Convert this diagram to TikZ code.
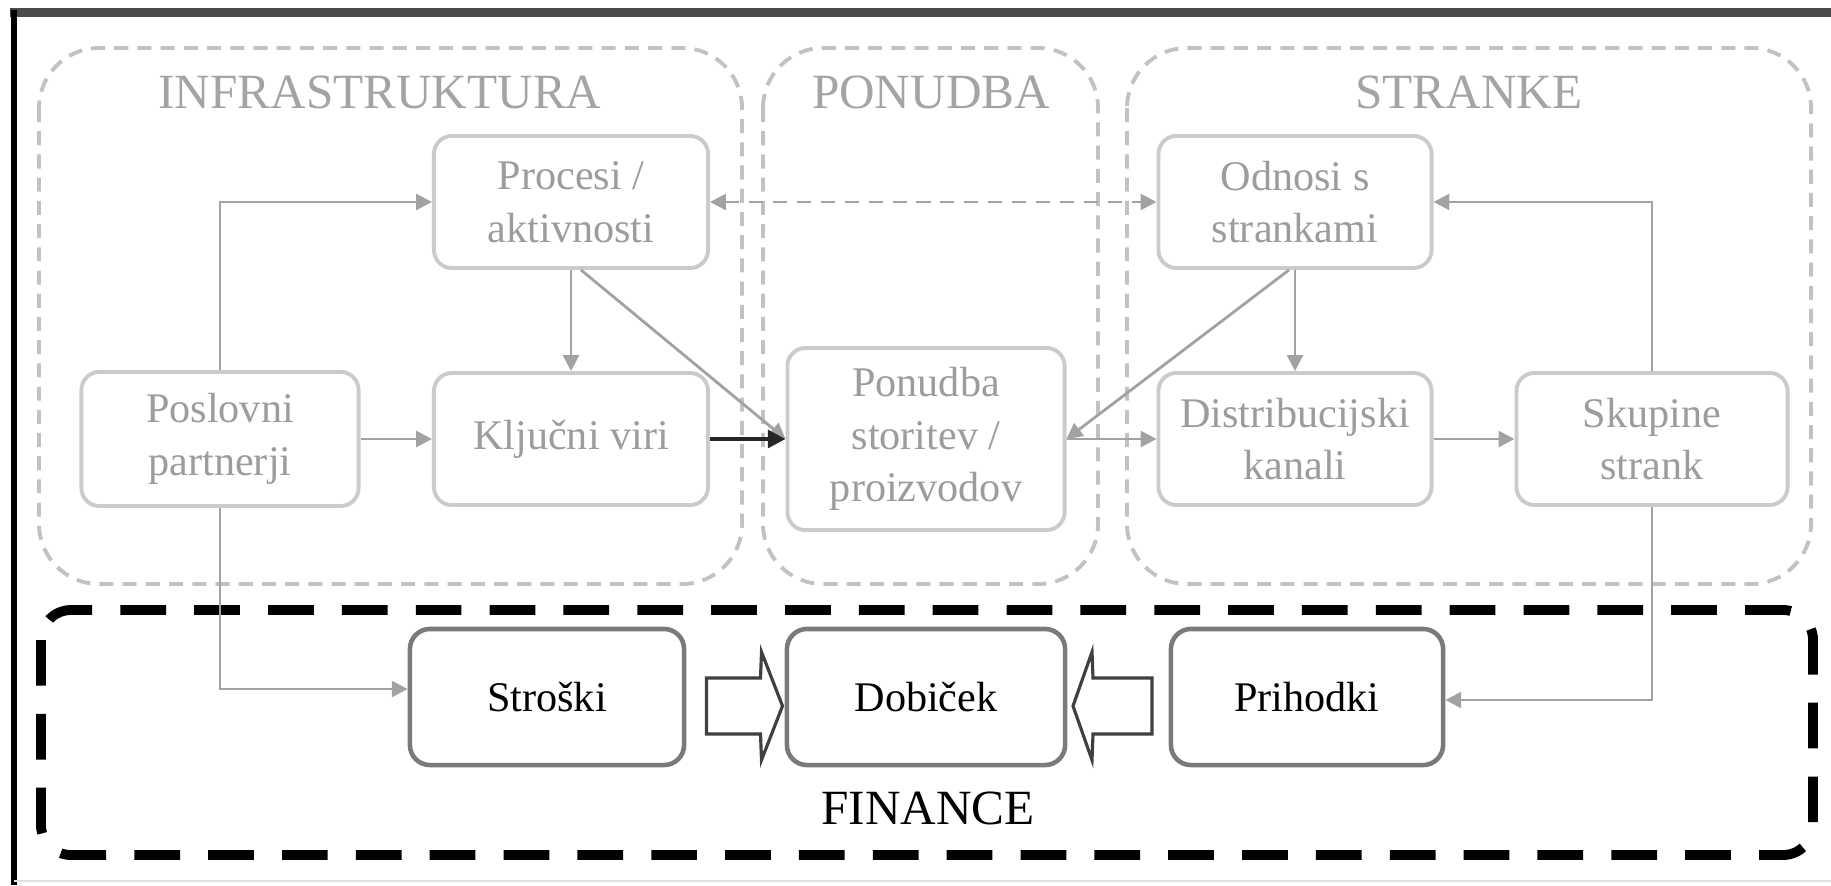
\documentclass[tikz,border=0pt]{standalone}
\usepackage{fontspec}
\setmainfont{Liberation Serif}
\usetikzlibrary{arrows.meta,calc}

\definecolor{zonegray}{HTML}{C2C2C2}
\definecolor{titlegray}{HTML}{A4A4A4}
\definecolor{boxgray}{HTML}{CBCBCB}
\definecolor{textgray}{HTML}{9C9C9C}
\definecolor{linegray}{HTML}{A2A2A2}
\definecolor{findraw}{HTML}{7A7A7A}
\definecolor{framedark}{HTML}{4A4A4A}

\begin{document}
\begin{tikzpicture}[x=0.01cm, y=-0.01cm,
  zone/.style={draw=zonegray, line width=1.1pt, dash pattern=on 4pt off 2.6pt, rounded corners=0.6cm},
  zonetitle/.style={text=titlegray, font=\fontsize{14}{16}\selectfont, inner sep=0pt},
  block/.style={draw=boxgray, line width=1.1pt, rounded corners=0.18cm, fill=white,
    text=textgray, align=center, font=\fontsize{12}{15}\selectfont, inner sep=0pt},
  finbox/.style={draw=findraw, line width=1.3pt, rounded corners=0.2cm, fill=white,
    align=center, font=\fontsize{12}{15}\selectfont, inner sep=0pt,
    minimum width=2.74cm, minimum height=1.36cm},
  flow/.style={draw=linegray, line width=0.8pt, -{Triangle[length=4.5pt,width=4.5pt]}},
  keyflow/.style={draw=black!85, line width=1.1pt, -{Triangle[length=5pt,width=5pt]}},
  linkflow/.style={draw=linegray, line width=0.8pt, dash pattern=on 4pt off 2.8pt,
    {Triangle[length=4.5pt,width=4.5pt]}-{Triangle[length=4.5pt,width=4.5pt]}},
  blockarrow/.style={draw=black!75, line width=0.9pt, fill=white, line join=miter},
  findash/.style={draw=black, line width=2.8pt, dash pattern=on 13pt off 8pt, rounded corners=0.3cm}
]
\useasboundingbox (0,0) rectangle (1831,885);
\fill[white] (0,0) rectangle (1831,885);

% outer frame
\draw[line width=2.4pt, framedark] (10,12.5) -- (1831,12.5);
\draw[line width=1.5pt, black] (14,10) -- (14,885);
\draw[line width=0.6pt, black!12] (14,881) -- (1831,881);

% dashed zones
\draw[zone] (39,48) rectangle (742,584);
\draw[zone] (763,48) rectangle (1098,584);
\draw[zone] (1127,48) rectangle (1811,584);
\node[zonetitle] (tinfra) at (380,92) {INFRASTRUKTURA};
\node[zonetitle] (tponud) at (931,92) {PONUDBA};
\node[zonetitle] (tstran) at (1469,92) {STRANKE};

% finance zone
\draw[findash] (41,610) rectangle (1813,855);
\node[font=\fontsize{14}{16}\selectfont, inner sep=0pt] (tfin) at (928,808) {FINANCE};

% building blocks
\node[block, minimum width=2.74cm, minimum height=1.32cm] (proc) at (571,202) {Procesi /\\aktivnosti};
\node[block, minimum width=2.77cm, minimum height=1.34cm] (posl) at (220,439) {Poslovni\\partnerji};
\node[block, minimum width=2.74cm, minimum height=1.32cm] (kljuc) at (571,439) {Ključni viri};
\node[block, minimum width=2.77cm, minimum height=1.82cm] (ponud) at (926,439) {Ponudba\\storitev /\\proizvodov};
\node[block, minimum width=2.73cm, minimum height=1.32cm] (odn) at (1295,202) {Odnosi s\\strankami};
\node[block, minimum width=2.73cm, minimum height=1.32cm] (dist) at (1295,439) {Distribucijski\\kanali};
\node[block, minimum width=2.71cm, minimum height=1.32cm] (skup) at (1652,439) {Skupine\\strank};

\node[finbox] (stro) at (547,697) {Stroški};
\node[finbox, minimum width=2.78cm] (dob) at (926,697) {Dobiček};
\node[finbox, minimum width=2.72cm] (prih) at (1307,697) {Prihodki};

% connectors
\draw[flow] (posl.north) |- (proc.west);
\draw[flow] (posl.east) -- (kljuc.west);
\draw[flow] (proc.south) -- (kljuc.north);
\draw[flow] ($(proc.south)+(10,0)$) -- (ponud.west);
\draw[keyflow] (kljuc.east) -- (ponud.west);
\draw[linkflow] (proc.east) -- (odn.west);
\draw[flow] (odn.south) -- (dist.north);
\draw[flow] ($(odn.south)+(-6,0)$) -- (ponud.east);
\draw[flow] (ponud.east) -- (dist.west);
\draw[flow] (dist.east) -- (skup.west);
\draw[flow] (skup.north) |- (odn.east);
\draw[flow] (posl.south) |- ($(stro.west)+(0,-8)$);
\draw[flow] (skup.south) |- ($(prih.east)+(0,3)$);

% block arrows into the profit box
\coordinate (ra) at ($(stro.east)!0.5!(dob.west)+(0,9)$);
\coordinate (la) at ($(prih.west)!0.5!(dob.east)+(0,9)$);
\draw[blockarrow] ($(ra)+(-29,-28)$) -- ($(ra)+(25,-28)$) -- ($(ra)+(26,-54)$) -- ($(ra)+(47,0)$)
  -- ($(ra)+(26,54)$) -- ($(ra)+(25,28)$) -- ($(ra)+(-29,28)$) -- cycle;
\draw[blockarrow] ($(la)+(34,-28)$) -- ($(la)+(-25,-28)$) -- ($(la)+(-26,-54)$) -- ($(la)+(-45,0)$)
  -- ($(la)+(-26,54)$) -- ($(la)+(-25,28)$) -- ($(la)+(34,28)$) -- cycle;
\end{tikzpicture}
\end{document}
